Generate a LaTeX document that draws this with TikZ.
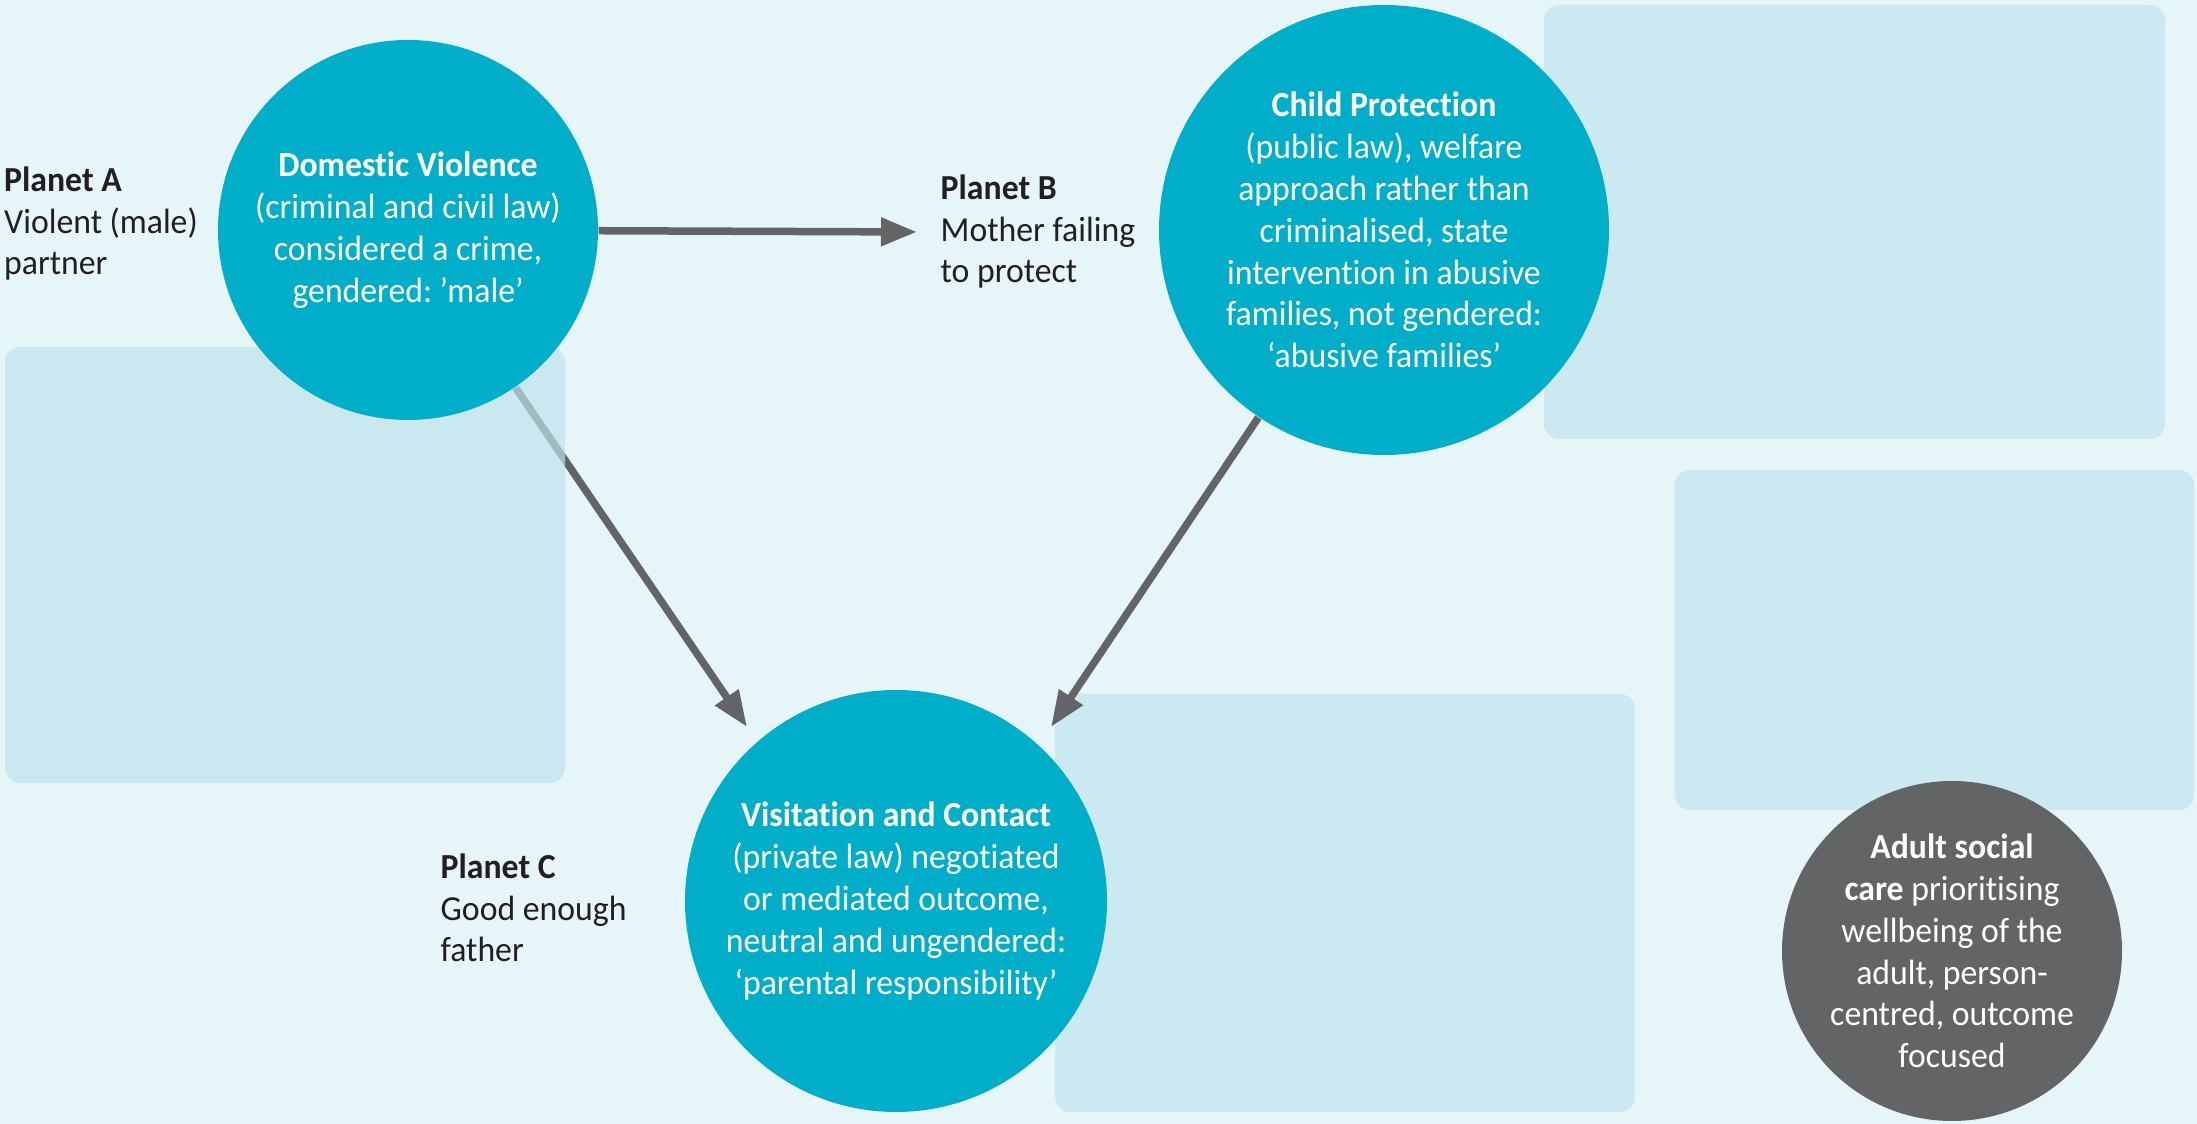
\documentclass[tikz,border=0pt]{standalone}
\usepackage{fontspec}
\setmainfont[FakeStretch=0.96,Ligatures=NoCommon]{Carlito}
\usetikzlibrary{arrows.meta}
\frenchspacing

\definecolor{bgblue}{HTML}{E6F5F8}
\definecolor{boxblue}{HTML}{CBE9F0}
\definecolor{veilblue}{HTML}{BEE3EC}
\definecolor{circleteal}{HTML}{00AEC9}
\definecolor{darkgrey}{HTML}{636466}
\definecolor{ink}{HTML}{231F20}

\pgfdeclarelayer{back}
\pgfdeclarelayer{lines}
\pgfdeclarelayer{veil}
\pgfsetlayers{back,lines,veil,main}

\tikzset{
  planet/.style={circle, fill=circleteal, text=white, align=center, inner sep=0pt},
  planettext/.style={text=ink, align=left, inner sep=0pt, anchor=north west},
  bluebox/.style={fill=boxblue, rounded corners=1.5mm},
  link/.style={draw=darkgrey, line width=0.75mm, -{Triangle[length=3.6mm,width=2.7mm]}}
}

\begin{document}
\begin{tikzpicture}[x=1cm,y=1cm,every node/.style={font=\fontsize{10pt}{11.9pt}\selectfont}]
  \begin{pgfonlayer}{back}
    \fill[bgblue] (0,0) rectangle (21.97,11.24);
    \fill[bluebox] (15.44,6.85) rectangle (21.65,11.19);
    \fill[bluebox] (16.75,3.14) rectangle (21.94,6.54);
    \fill[bluebox] (10.55,0.12) rectangle (16.35,4.30);
  \end{pgfonlayer}
  \useasboundingbox (0,0) rectangle (21.97,11.24);

  \node[planet, minimum size=3.8cm] (violence) at (4.08,8.94)
    {\textbf{Domestic Violence}\\(criminal and civil law)\\considered a crime,\\gendered: ’male’};
  \node[planet, minimum size=4.5cm] (protection) at (13.84,8.94)
    {\textbf{Child Protection}\\(public law), welfare\\approach rather than\\criminalised, state\\intervention in abusive\\families, not gendered:\\‘abusive families’};
  \node[planet, minimum size=4.22cm] (contact) at (8.96,2.23)
    {\textbf{Visitation and Contact}\\(private law) negotiated\\or mediated outcome,\\neutral and ungendered:\\‘parental responsibility’};
  \node[planet, fill=darkgrey, minimum size=3.4cm] (adultcare) at (19.52,1.73)
    {\textbf{Adult social}\\\textbf{care} prioritising\\wellbeing of the\\adult, person-\\centred, outcome\\focused};

  \node[planettext] (planetA) at (0.035,9.58) {\textbf{Planet A}\\Violent (male)\\partner};
  \node[planettext] (planetB) at (9.40,9.50) {\textbf{Planet B}\\Mother failing\\to protect};
  \node[planettext] (planetC) at (4.40,2.71) {\textbf{Planet C}\\Good enough\\father};

  \coordinate (tipB) at (9.17,8.92);
  \coordinate (tipC1) at (7.47,3.97);
  \coordinate (tipC2) at (10.51,3.97);
  \begin{pgfonlayer}{lines}
    \draw[link] (violence) -- (tipB);
    \draw[link] (violence) -- (tipC1);
    \draw[link] (protection) -- (tipC2);
  \end{pgfonlayer}

  \begin{pgfonlayer}{veil}
    \fill[bluebox, fill=veilblue, fill opacity=0.68] (0.05,3.41) rectangle (5.65,7.77);
  \end{pgfonlayer}
\end{tikzpicture}
\end{document}
